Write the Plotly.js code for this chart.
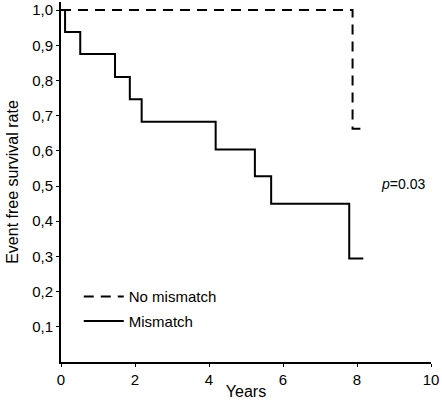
<!DOCTYPE html>
<html>
<head>
<meta charset="utf-8">
<script src="https://cdn.plot.ly/plotly-3.0.1.min.js"></script>
<style>html,body{margin:0;padding:0;background:#fff;}#chart{width:442px;height:400px;}</style>
</head>
<body>
<div id="chart"></div>
<script>
// Kaplan-Meier step data (years, event free survival rate)
var noMismatchYears = [0, 7.88, 8.24];
var noMismatchRate  = [1.0, 0.663, 0.663];
var mismatchYears = [0, 0.11, 0.52, 1.46, 1.86, 2.18, 4.18, 5.24, 5.68, 7.79, 8.17];
var mismatchRate  = [1.0, 0.938, 0.875, 0.81, 0.747, 0.683, 0.604, 0.528, 0.45, 0.294, 0.294];
var seriesNames = ["No mismatch", "Mismatch"];
var xTickVals = [0, 2, 4, 6, 8, 10];
var xTickText = ["0", "2", "4", "6", "8", "10"];
var yTickVals = [0.1, 0.2, 0.3, 0.4, 0.5, 0.6, 0.7, 0.8, 0.9, 1.0];
var yTickText = ["0,1", "0,2", "0,3", "0,4", "0,5", "0,6", "0,7", "0,8", "0,9", "1,0"];
var pValueText = "<i>p</i>=0.03";
var pValuePos = [9.24, 0.506];

var FONT = "Liberation Sans, Arial, Helvetica, sans-serif";

var traces = [
  {x: noMismatchYears, y: noMismatchRate, name: seriesNames[0], type: "scatter", mode: "lines",
   legendgroup: "a",
   line: {shape: "hv", color: "#000", width: 2, dash: "10px,7px"}},
  {x: mismatchYears, y: mismatchRate, name: seriesNames[1], type: "scatter", mode: "lines",
   legendgroup: "b",
   line: {shape: "hv", color: "#000", width: 2}}
];

var layout = {
  width: 442, height: 400,
  margin: {l: 61, r: 11, t: 2, b: 38, pad: 0},
  paper_bgcolor: "#fff", plot_bgcolor: "#fff",
  font: {family: FONT, size: 15, color: "#000"},
  showlegend: true,
  legend: {x: 0.048, y: 0.227, xanchor: "left", yanchor: "top", bgcolor: "rgba(0,0,0,0)",
           font: {family: FONT, size: 15, color: "#000"}, tracegroupgap: 2, itemwidth: 40},
  xaxis: {
    range: [0, 10], tickvals: xTickVals, ticktext: xTickText,
    showgrid: false, zeroline: false, showline: true, linecolor: "#000", linewidth: 2,
    ticks: "outside", ticklen: 3, tickwidth: 1, tickcolor: "#000",
    tickfont: {family: FONT, size: 15, color: "#000"},
    title: {text: "Years", font: {family: FONT, size: 16, color: "#000"}, standoff: 0},
    automargin: false
  },
  yaxis: {
    range: [0, 1.023], tickvals: yTickVals, ticktext: yTickText,
    showgrid: false, zeroline: false, showline: true, linecolor: "#000", linewidth: 2,
    ticks: "outside", ticklen: 3, tickwidth: 1, tickcolor: "#000",
    tickfont: {family: FONT, size: 15, color: "#000"},
    title: {text: "Event free survival rate", font: {family: FONT, size: 16, color: "#000"}, standoff: 10},
    automargin: false
  },
  annotations: [
    {x: pValuePos[0], y: pValuePos[1], xref: "x", yref: "y", text: pValueText, showarrow: false,
     font: {family: FONT, size: 14, color: "#000"}}
  ]
};

Plotly.newPlot("chart", traces, layout, {displayModeBar: false, staticPlot: true});
</script>
</body>
</html>
